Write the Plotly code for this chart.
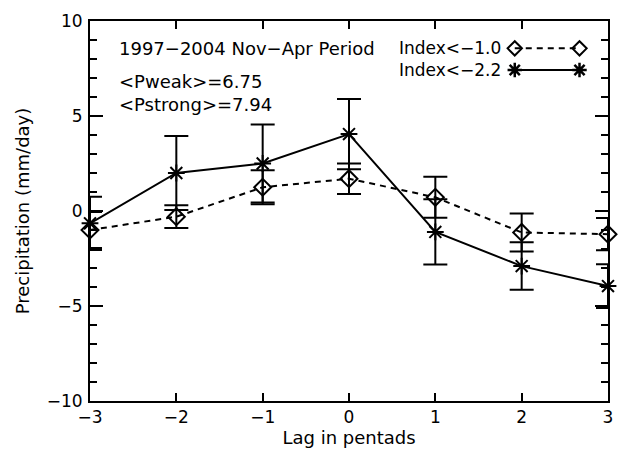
import plotly.graph_objects as go

lags = [-3, -2, -1, 0, 1, 2, 3]
weak = [-1.0, -0.3, 1.25, 1.7, 0.72, -1.13, -1.22]
weak_err = [0.95, 0.6, 0.9, 0.8, 1.08, 1.0, 0.85]
strong = [-0.65, 2.0, 2.5, 4.05, -1.1, -2.9, -3.95]
strong_err = [1.4, 1.95, 2.05, 1.85, 1.72, 1.25, 1.15]

legend_labels = ["Index<\u22121.0", "Index<\u22122.2"]
title_text = "1997\u22122004 Nov\u2212Apr Period"
stats_text = ["&lt;Pweak&gt;=6.75", "&lt;Pstrong&gt;=7.94"]

FONT = "DejaVu Sans"
fig = go.Figure()

fig.add_trace(go.Scatter(
    x=lags, y=weak, mode="lines+markers",
    line=dict(color="black", width=2, dash="6px,5px"),
    marker=dict(symbol="diamond-open", size=13, color="black", line=dict(width=2)),
    error_y=dict(type="data", array=weak_err, color="black", thickness=2, width=12),
    showlegend=False, cliponaxis=False))
fig.add_trace(go.Scatter(
    x=lags, y=strong, mode="lines+markers",
    line=dict(color="black", width=2),
    marker=dict(symbol="asterisk-open", size=14, color="black", line=dict(width=2, color="black")),
    error_y=dict(type="data", array=strong_err, color="black", thickness=2, width=12),
    showlegend=False, cliponaxis=False))

# legend samples on an overlay axis
ly = [0.928, 0.871]
fig.add_trace(go.Scatter(
    x=[0.82, 0.945], y=[ly[0], ly[0]], xaxis="x2", yaxis="y2", mode="lines+markers",
    line=dict(color="black", width=2, dash="6px,5px"),
    marker=dict(symbol="diamond-open", size=11, color="black", line=dict(width=2)),
    showlegend=False, hoverinfo="skip"))
fig.add_trace(go.Scatter(
    x=[0.82, 0.945], y=[ly[1], ly[1]], xaxis="x2", yaxis="y2", mode="lines+markers",
    line=dict(color="black", width=2),
    marker=dict(symbol="asterisk-open", size=12, color="black", line=dict(width=2.5, color="black")),
    showlegend=False, hoverinfo="skip"))

tf = dict(family=FONT, size=18, color="black")
lf = dict(family=FONT, size=17, color="black")
kf = dict(family=FONT, size=17, color="black")
annots = [
    dict(x=0.798, y=(ly[0] + ly[1]) / 2, xref="x2", yref="y2", text="<br>".join(legend_labels),
         showarrow=False, xanchor="right", yanchor="middle", align="right", font=lf),
    dict(x=0.052, y=ly[0], xref="x2", yref="y2", text=title_text, showarrow=False,
         xanchor="left", yanchor="middle", font=tf),
    dict(x=0.052, y=0.81, xref="x2", yref="y2", text="<br>".join(stats_text),
         showarrow=False, xanchor="left", yanchor="middle", align="left", font=tf),
]

axis_common = dict(showline=True, linecolor="black", linewidth=2, mirror="ticks",
                   ticks="inside", tickcolor="black", tickwidth=2, showgrid=False, zeroline=False,
                   tickfont=kf)

fig.update_layout(
    width=624, height=456, paper_bgcolor="white", plot_bgcolor="white",
    margin=dict(l=90, r=11, t=15, b=54),
    xaxis=dict(range=[-3, 3], tickvals=lags, ticklen=8,
               ticktext=[str(v).replace("-", "\u2212") for v in lags],
               title=dict(text="Lag in pentads", font=tf, standoff=5),
               **axis_common),
    yaxis=dict(range=[-10, 10], tickvals=[-10, -5, 0, 5, 10], ticklen=13,
               ticktext=["\u221210", "\u22125", "0", "5", "10"],
               ticklabelstandoff=2,
               minor=dict(dtick=1, ticks="inside", ticklen=7, tickcolor="black", tickwidth=2),
               title=dict(text="Precipitation (mm/day)", font=tf, standoff=12),
               **axis_common),
    xaxis2=dict(range=[0, 1], overlaying="x", visible=False, fixedrange=True),
    yaxis2=dict(range=[0, 1], overlaying="y", visible=False, fixedrange=True),
    annotations=annots,
)

fig.write_html("out.html")
